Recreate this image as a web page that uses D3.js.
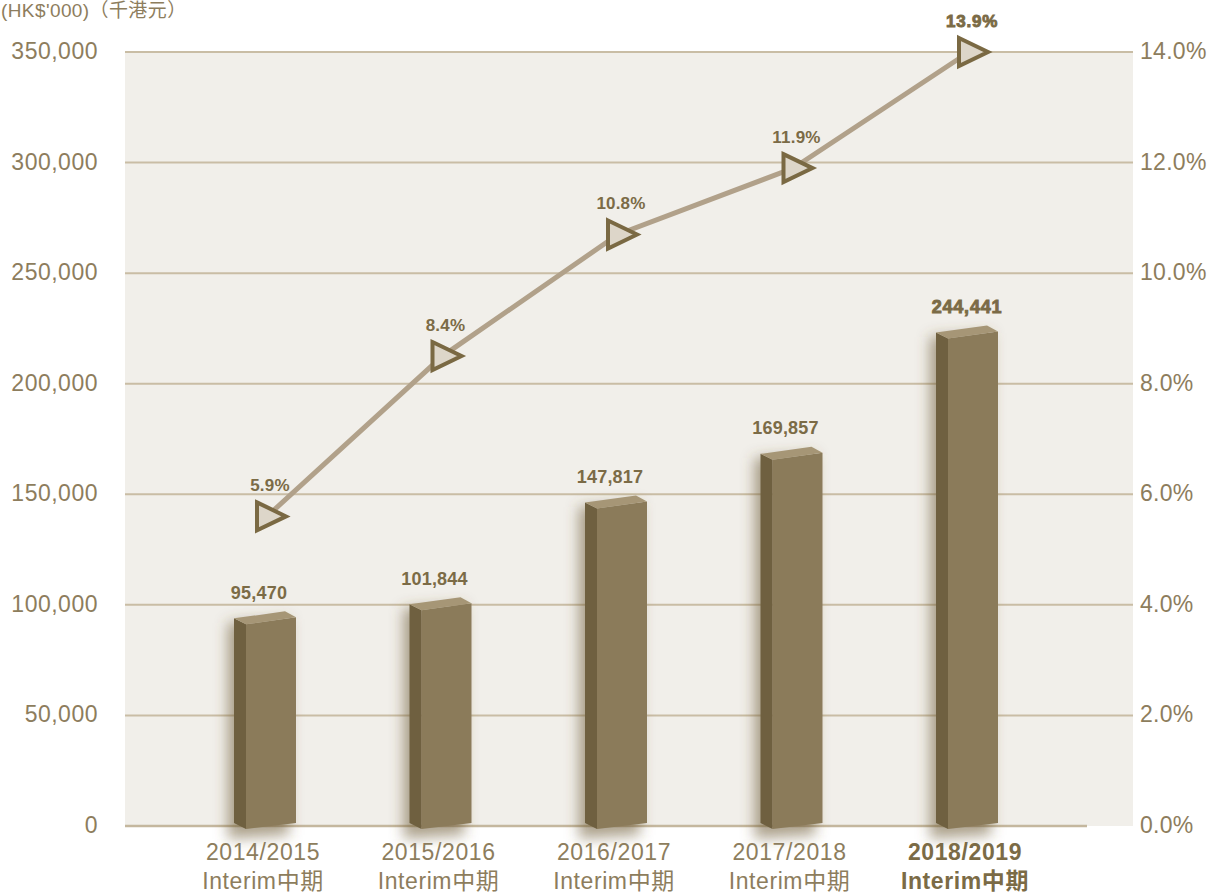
<!DOCTYPE html>
<html>
<head>
<meta charset="utf-8">
<script src="https://cdn.jsdelivr.net/npm/d3@7"></script>
<style>
  html, body { margin: 0; padding: 0; background: #ffffff; }
  svg { display: block; }
</style>
</head>
<body>
<svg id="chart" width="1209" height="893"></svg>
<script>
// ---------------- data ----------------
const periods = ["2014/2015", "2015/2016", "2016/2017", "2017/2018", "2018/2019"];
const periodSuffix = ["Interim中期", "Interim中期", "Interim中期", "Interim中期", "Interim中期"];
const revenueLabels = ["95,470", "101,844", "147,817", "169,857", "244,441"];
// bar heights as drawn in the reference (HK$'000)
const revenueDrawn = [95470, 101844, 147817, 169857, 224700];
const ratioLabels = ["5.9%", "8.4%", "10.8%", "11.9%", "13.9%"];
// line points as drawn in the reference
const ratioDrawn = [0.056, 0.085, 0.107, 0.119, 0.140];
const leftTicks = [0, 50000, 100000, 150000, 200000, 250000, 300000, 350000];
const rightTicks = [0, 0.02, 0.04, 0.06, 0.08, 0.10, 0.12, 0.14];
const unitLabel = "(HK$'000)（千港元）";

// ---------------- layout ----------------
const svg = d3.select("#chart");
const plotL = 125, plotR = 1133, plotT = 52, plotB = 826;
const axisColor = "#8d7d5d";
const labelColor = "#7b6b46";
const gridColor = "#c9bda5";
const sans = "Liberation Sans, Arial, 'Noto Sans CJK TC', sans-serif";

const x = d3.scalePoint().domain(periods).range([265, 967]);
const yL = d3.scaleLinear().domain([0, 350000]).range([plotB, plotT]);
const yR = d3.scaleLinear().domain([0, 0.14]).range([plotB, plotT]);

const defs = svg.append("defs");
const f = defs.append("filter").attr("id", "shadow")
  .attr("x", "-50%").attr("y", "-20%").attr("width", "200%").attr("height", "140%");
f.append("feGaussianBlur").attr("stdDeviation", 7);

// plot background
svg.append("rect")
  .attr("x", plotL).attr("y", plotT)
  .attr("width", plotR - plotL).attr("height", plotB - plotT)
  .attr("fill", "#f1efea");

// gridlines
svg.append("g").selectAll("line").data(leftTicks.filter(d => d > 0)).join("line")
  .attr("x1", plotL).attr("x2", plotR)
  .attr("y1", d => yL(d)).attr("y2", d => yL(d))
  .attr("stroke", gridColor).attr("stroke-width", 2);
svg.append("line")
  .attr("x1", plotL).attr("x2", 1087)
  .attr("y1", yL(0)).attr("y2", yL(0))
  .attr("stroke", "#c4b79e").attr("stroke-width", 2.5);

// left axis
const gL = svg.append("g").attr("transform", "translate(98,0)")
  .call(d3.axisLeft(yL).tickValues(leftTicks).tickFormat(d3.format(",")).tickSize(0).tickPadding(0));
gL.select(".domain").remove();
gL.selectAll("text")
  .attr("fill", axisColor).attr("font-family", sans)
  .attr("font-size", 23).attr("letter-spacing", 0.5).attr("dy", "0.28em");

// right axis
const gR = svg.append("g").attr("transform", "translate(1140,0)")
  .call(d3.axisRight(yR).tickValues(rightTicks).tickFormat(d3.format(".1%")).tickSize(0).tickPadding(0));
gR.select(".domain").remove();
gR.selectAll("text")
  .attr("fill", axisColor).attr("font-family", sans)
  .attr("font-size", 23).attr("letter-spacing", 0.3).attr("dy", "0.28em");

// unit label
svg.append("text")
  .attr("x", 1).attr("y", 17)
  .attr("fill", axisColor)
  .attr("font-family", sans)
  .attr("font-size", 19)
  .attr("letter-spacing", 0.4)
  .text(unitLabel);

// bars (3D look)
const bars = svg.append("g");
const barData = periods.map((p, i) => ({ p, v: revenueDrawn[i], label: revenueLabels[i], i }));
bars.selectAll("path.shadow").data(barData).join("path")
  .attr("class", "shadow")
  .attr("d", d => {
    const c = x(d.p), yv = yL(d.v), y0 = yL(0);
    return `M${c - 37},${yv + 8} L${c + 24},${yv + 4} L${c + 24},${y0 + 9} L${c - 37},${y0 + 13} Z`;
  })
  .attr("fill", "rgba(105,85,45,0.55)")
  .attr("filter", "url(#shadow)");

bars.selectAll("path.side").data(barData).join("path")
  .attr("class", "side")
  .attr("d", d => {
    const c = x(d.p), yv = yL(d.v), y0 = yL(0);
    return `M${c - 31},${yv + 3.5} L${c - 19},${yv + 9.5} L${c - 19},${y0 + 3} L${c - 31},${y0 - 3} Z`;
  })
  .attr("fill", "#6f6040");

bars.selectAll("path.front").data(barData).join("path")
  .attr("class", "front")
  .attr("d", d => {
    const c = x(d.p), yv = yL(d.v), y0 = yL(0);
    return `M${c - 19},${yv + 9.5} L${c + 31},${yv + 2.5} L${c + 31},${y0 - 3} L${c - 19},${y0 + 3} Z`;
  })
  .attr("fill", "#8b7b5a");

bars.selectAll("path.top").data(barData).join("path")
  .attr("class", "top")
  .attr("d", d => {
    const c = x(d.p), yv = yL(d.v);
    return `M${c - 31},${yv + 3.5} L${c + 20},${yv - 3.5} L${c + 31},${yv + 2.5} L${c - 19},${yv + 9.5} Z`;
  })
  .attr("fill", "#a69676");

// bar value labels
bars.selectAll("text").data(barData).join("text")
  .attr("x", d => x(d.p) - (d.i === 4 ? 0 : 6))
  .attr("y", d => yL(d.v) - 16)
  .attr("text-anchor", "middle")
  .attr("fill", labelColor)
  .attr("font-family", sans)
  .attr("font-weight", "bold")
  .attr("font-size", 18)
  .attr("letter-spacing", d => d.i === 4 ? 0.8 : 0.2)
  .attr("stroke", d => d.i === 4 ? labelColor : "none")
  .attr("stroke-width", d => d.i === 4 ? 0.9 : 0)
  .text(d => d.label);

// line
const lineData = periods.map((p, i) => ({ p, v: ratioDrawn[i], label: ratioLabels[i], i }));
const line = d3.line().x(d => x(d.p) + 2).y(d => yR(d.v));
svg.append("path").datum(lineData)
  .attr("d", line)
  .attr("fill", "none")
  .attr("stroke", "#b1a18a")
  .attr("stroke-width", 5);

// triangle markers pointing right
svg.append("g").selectAll("path").data(lineData).join("path")
  .attr("d", d => {
    const cx = x(d.p) + 2, cy = yR(d.v);
    return `M${cx - 10},${cy - 14} L${cx + 19},${cy} L${cx - 10},${cy + 14} Z`;
  })
  .attr("fill", "#ddd6c9")
  .attr("stroke", "#7a6943")
  .attr("stroke-width", 4)
  .attr("stroke-linejoin", "miter");

// ratio labels
svg.append("g").selectAll("text").data(lineData).join("text")
  .attr("x", d => x(d.p) + 5)
  .attr("y", d => yR(d.v) - 25)
  .attr("text-anchor", "middle")
  .attr("fill", labelColor)
  .attr("font-family", sans)
  .attr("font-weight", "bold")
  .attr("font-size", 17)
  .attr("letter-spacing", d => d.i === 4 ? 0.8 : 0.2)
  .attr("stroke", d => d.i === 4 ? labelColor : "none")
  .attr("stroke-width", d => d.i === 4 ? 0.9 : 0)
  .text(d => d.label);

// category labels
const cat = svg.append("g").selectAll("text").data(periods).join("text")
  .attr("text-anchor", "middle")
  .attr("fill", (d, i) => i === 4 ? labelColor : axisColor)
  .attr("font-family", sans)
  .attr("font-weight", (d, i) => i === 4 ? "bold" : "normal")
  .attr("font-size", 23)
  .attr("letter-spacing", 0.6);
cat.append("tspan").attr("x", d => x(d) - 2).attr("y", 860).text(d => d);
cat.append("tspan").attr("x", d => x(d) - 2).attr("y", 889).text((d, i) => periodSuffix[i]);
</script>
</body>
</html>
